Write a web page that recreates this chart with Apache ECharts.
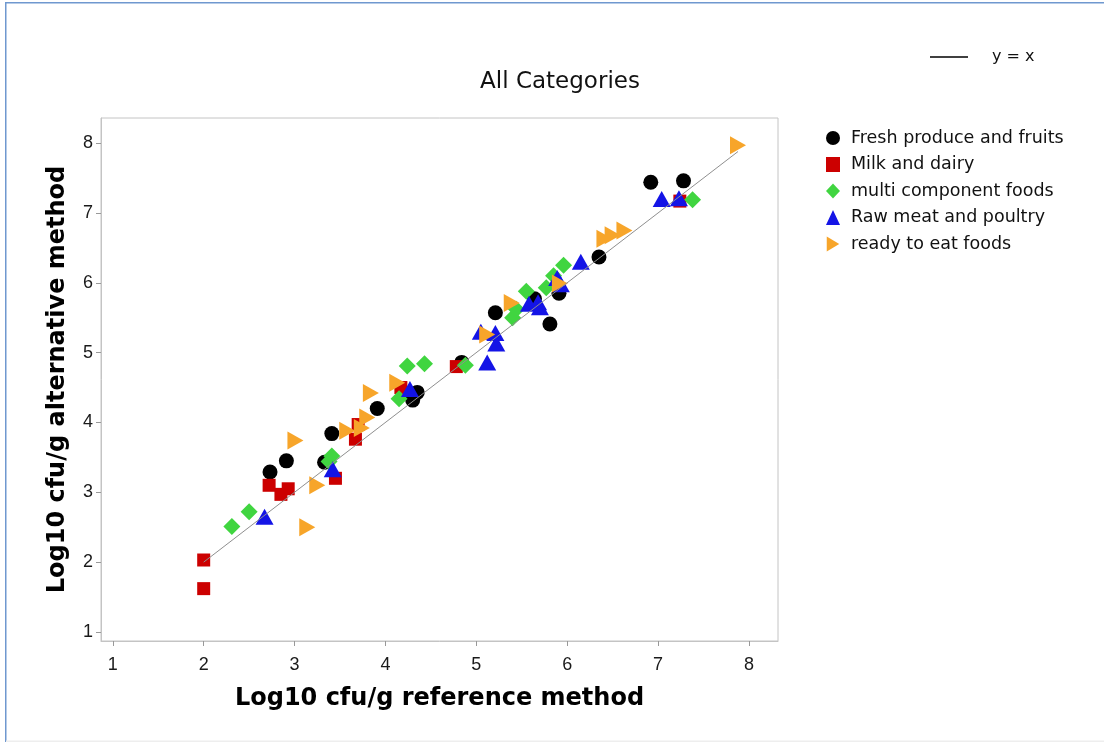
<!DOCTYPE html>
<html>
<head>
<meta charset="utf-8">
<script src="https://cdn.jsdelivr.net/npm/echarts@6/dist/echarts.min.js"></script>
<style>
html,body{margin:0;padding:0;background:#fff;}
#chart{width:1104px;height:742px;}
</style>
</head>
<body>
<div id="chart"></div>
<script>
// ---- data (log10 cfu/g: [reference, alternative]) ----
var seriesNames = ['Fresh produce and fruits', 'Milk and dairy', 'multi component foods', 'Raw meat and poultry', 'ready to eat foods'];
var freshProduce = [[2.73,3.29],[2.91,3.45],[3.33,3.43],[3.41,3.84],[3.91,4.2],[4.3,4.32],[4.35,4.43],[4.84,4.86],[5.21,5.57],[5.64,5.77],[5.81,5.41],[5.91,5.85],[6.35,6.37],[6.92,7.44],[7.28,7.46]];
var milkDairy = [[2.0,2.03],[2.0,1.62],[2.72,3.1],[2.85,2.97],[2.93,3.05],[3.45,3.2],[3.67,3.76],[3.7,3.97],[4.17,4.5],[4.78,4.8],[7.24,7.17]];
var multiComponent = [[2.31,2.51],[2.5,2.72],[3.38,3.44],[3.41,3.52],[4.15,4.34],[4.24,4.81],[4.43,4.84],[4.88,4.82],[5.4,5.5],[5.44,5.62],[5.55,5.88],[5.77,5.93],[5.85,6.1],[5.96,6.25],[7.38,7.19]];
var rawMeat = [[2.67,2.65],[3.42,3.33],[4.27,4.48],[5.05,5.3],[5.21,5.28],[5.22,5.13],[5.12,4.86],[5.58,5.7],[5.68,5.72],[5.7,5.65],[5.89,6.07],[5.93,5.98],[6.15,6.3],[7.04,7.2],[7.23,7.21]];
var readyToEat = [[3.01,3.74],[3.14,2.5],[3.25,3.1],[3.58,3.88],[3.74,3.92],[3.8,4.07],[3.84,4.42],[4.13,4.57],[5.12,5.26],[5.39,5.71],[5.92,5.99],[6.41,6.63],[6.5,6.68],[6.63,6.75],[7.88,7.97]];
var identityLine = [[2.0,2.0],[7.88,7.88]];
var xTicks = [1,2,3,4,5,6,7,8];
var yTicks = [1,2,3,4,5,6,7,8];

var FONT = '"Liberation Sans", Arial, sans-serif';
var WIDE = '"DejaVu Sans", "Liberation Sans", sans-serif';
var rightTri = 'path://M0,0 L10,6 L0,12 Z';

var chart = echarts.init(document.getElementById('chart'), null, {renderer: 'canvas'});
chart.setOption({
  backgroundColor: '#fff',
  animation: false,
  graphic: [
    {type: 'rect', shape: {x: 5, y: 2, width: 1200, height: 1.5}, style: {fill: '#6f98cf'}},
    {type: 'rect', shape: {x: 5, y: 2, width: 1.5, height: 740}, style: {fill: '#6f98cf'}},
    {type: 'rect', shape: {x: 6, y: 740.5, width: 1100, height: 1.5}, style: {fill: '#eeeeee'}},
    {type: 'text', x: 560, y: 82, style: {text: 'All Categories', font: '23px ' + WIDE, fill: '#111', align: 'center', verticalAlign: 'middle'}}
  ],
  grid: {left: 101, right: 326, top: 118, bottom: 101, show: true, borderColor: '#c4c4c4', borderWidth: 1, containLabel: false},
  legend: [
    {
      orient: 'vertical', left: 821, top: 124, itemWidth: 14, itemHeight: 15, itemGap: 8.5,
      data: seriesNames,
      textStyle: {fontFamily: WIDE, fontSize: 17.5, color: '#111', padding: [0, 0, 0, 6]},
      selectedMode: false
    },
    {
      orient: 'horizontal', left: 930, top: 49, padding: 0, itemWidth: 38, itemHeight: 16,
      data: [{name: 'y = x', icon: 'path://M0,7 L38,7 L38,8.5 L0,8.5 Z', itemStyle: {color: '#000'}}],
      textStyle: {fontFamily: WIDE, fontSize: 16, color: '#111', padding: [0, 0, 0, 19]},
      selectedMode: false
    }
  ],
  xAxis: {
    type: 'value', min: 0.87, max: 8.32,
    name: 'Log10 cfu/g reference method', nameLocation: 'middle', nameGap: 46,
    nameTextStyle: {fontFamily: WIDE, fontSize: 24, fontWeight: 'bold', color: '#000'},
    axisLine: {show: true, lineStyle: {color: '#c4c4c4'}},
    axisTick: {show: true, length: 5, lineStyle: {color: '#999'}, customValues: xTicks},
    axisLabel: {customValues: xTicks, fontFamily: FONT, fontSize: 18, color: '#1a1a1a', margin: 15},
    splitLine: {show: false}
  },
  yAxis: {
    type: 'value', min: 0.87, max: 8.36,
    name: 'Log10 cfu/g alternative method', nameLocation: 'middle', nameGap: 31, nameRotate: 90,
    nameTextStyle: {fontFamily: WIDE, fontSize: 24, fontWeight: 'bold', color: '#000'},
    axisLine: {show: true, lineStyle: {color: '#c4c4c4'}},
    axisTick: {show: true, length: 5, lineStyle: {color: '#999'}, customValues: yTicks},
    axisLabel: {customValues: yTicks, fontFamily: FONT, fontSize: 18, color: '#1a1a1a', margin: 8},
    splitLine: {show: false}
  },
  series: [
    {name: seriesNames[0], type: 'scatter', data: freshProduce, symbol: 'circle', symbolSize: 15, itemStyle: {color: '#000', opacity: 1}},
    {name: seriesNames[1], type: 'scatter', data: milkDairy, symbol: 'rect', symbolSize: 13, itemStyle: {color: '#cc0000', opacity: 1}},
    {name: seriesNames[2], type: 'scatter', data: multiComponent, symbol: 'diamond', symbolSize: 17, itemStyle: {color: '#40d540', opacity: 1}},
    {name: seriesNames[3], type: 'scatter', data: rawMeat, symbol: 'triangle', symbolSize: [18, 16], itemStyle: {color: '#1414e6', opacity: 1}},
    {name: seriesNames[4], type: 'scatter', data: readyToEat, symbol: rightTri, symbolSize: [16, 18], itemStyle: {color: '#f7a52a', opacity: 1}},
    {name: 'y = x', type: 'line', data: identityLine, symbol: 'none', z: 5, lineStyle: {color: '#8f8f8f', width: 1}}
  ]
});
</script>
</body>
</html>
